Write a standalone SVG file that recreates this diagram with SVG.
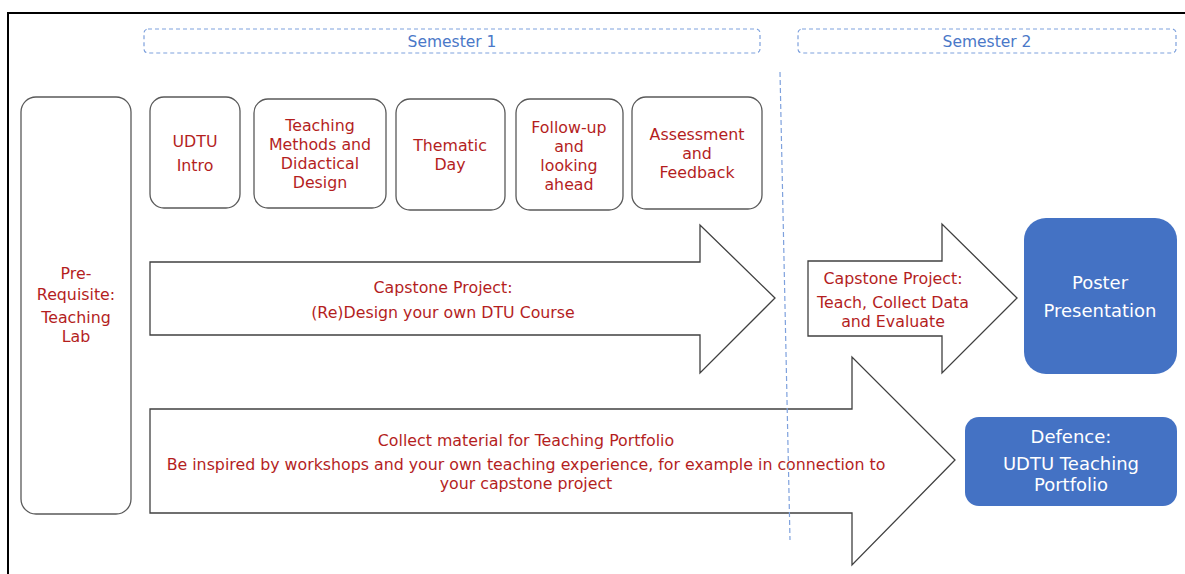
<svg xmlns="http://www.w3.org/2000/svg" width="1185" height="574" viewBox="0 0 1185 574">
<style>
text{font-family:"DejaVu Sans","Verdana",sans-serif;text-anchor:middle}
.t{fill:#B41E1E;font-size:15.8px}
.s{fill:#4A78C8;font-size:15.5px}
.w{fill:#FFFFFF;font-size:18px}
.box{fill:#FFFFFF;stroke:#595959;stroke-width:1.3}
.arr{fill:#FFFFFF;stroke:#404040;stroke-width:1.3}
.sem{fill:none;stroke:#7EA1DD;stroke-width:1.2;stroke-dasharray:4 3}
.blue{fill:#4472C4}
</style>
<rect x="0" y="0" width="1185" height="574" fill="#FFFFFF"/>
<path d="M8 574 V13 H1185" fill="none" stroke="#000000" stroke-width="2"/>

<g id="semester1"><rect class="sem" x="144" y="29" width="616" height="24" rx="4"/><text class="s" x="452" y="47">Semester 1</text></g>
<g id="semester2"><rect class="sem" x="798" y="29" width="378" height="24" rx="4"/><text class="s" x="987" y="47">Semester 2</text></g>

<g id="prerequisite"><rect class="box" x="21" y="97" width="110" height="417" rx="15"/>
<text class="t"><tspan x="76" y="279">Pre-</tspan><tspan x="76" y="300">Requisite:</tspan><tspan x="76" y="323">Teaching</tspan><tspan x="76" y="342">Lab</tspan></text></g>

<g id="udtu-intro"><rect class="box" x="150" y="97" width="90" height="111" rx="14"/>
<text class="t"><tspan x="195" y="147">UDTU</tspan><tspan x="195" y="171">Intro</tspan></text></g>

<g id="teaching-methods"><rect class="box" x="254" y="99" width="132" height="109" rx="14"/>
<text class="t"><tspan x="320" y="131">Teaching</tspan><tspan x="320" y="150">Methods and</tspan><tspan x="320" y="169">Didactical</tspan><tspan x="320" y="188">Design</tspan></text></g>

<g id="thematic-day"><rect class="box" x="396" y="99" width="109" height="111" rx="14"/>
<text class="t"><tspan x="450" y="151">Thematic</tspan><tspan x="450" y="170">Day</tspan></text></g>

<g id="follow-up"><rect class="box" x="516" y="99" width="107" height="111" rx="14"/>
<text class="t"><tspan x="569" y="133">Follow-up</tspan><tspan x="569" y="152">and</tspan><tspan x="569" y="171">looking</tspan><tspan x="569" y="190">ahead</tspan></text></g>

<g id="assessment"><rect class="box" x="632" y="97" width="130" height="112" rx="14"/>
<text class="t"><tspan x="697" y="140">Assessment</tspan><tspan x="697" y="159">and</tspan><tspan x="697" y="178">Feedback</tspan></text></g>

<g id="capstone-design"><path class="arr" d="M150 262 H700 V225 L775 298 L700 373 V335 H150 Z"/>
<text class="t"><tspan x="443" y="293">Capstone Project:</tspan><tspan x="443" y="318">(Re)Design your own DTU Course</tspan></text></g>

<g id="capstone-teach"><path class="arr" d="M808 261 H942 V224 L1017 298 L942 373 V336 H808 Z"/>
<text class="t"><tspan x="893" y="284">Capstone Project:</tspan><tspan x="893" y="308">Teach, Collect Data</tspan><tspan x="893" y="327">and Evaluate</tspan></text></g>

<g id="portfolio-arrow"><path class="arr" d="M150 409 H852 V357 L955 460 L852 565 V513 H150 Z"/>
<text class="t"><tspan x="526" y="446">Collect material for Teaching Portfolio</tspan><tspan x="526" y="470">Be inspired by workshops and your own teaching experience, for example in connection to</tspan><tspan x="526" y="489">your capstone project</tspan></text></g>

<g id="poster"><rect class="blue" x="1024" y="218" width="153" height="156" rx="22"/>
<text class="w"><tspan x="1100" y="289">Poster</tspan><tspan x="1100" y="317">Presentation</tspan></text></g>

<g id="defence"><rect class="blue" x="965" y="417" width="212" height="89" rx="14"/>
<text class="w"><tspan x="1071" y="443">Defence:</tspan><tspan x="1071" y="470">UDTU Teaching</tspan><tspan x="1071" y="491">Portfolio</tspan></text></g>

<g id="connectors"><line x1="780" y1="72" x2="790" y2="540" stroke="#7EA1DD" stroke-width="1.2" stroke-dasharray="5 3"/></g>
</svg>
